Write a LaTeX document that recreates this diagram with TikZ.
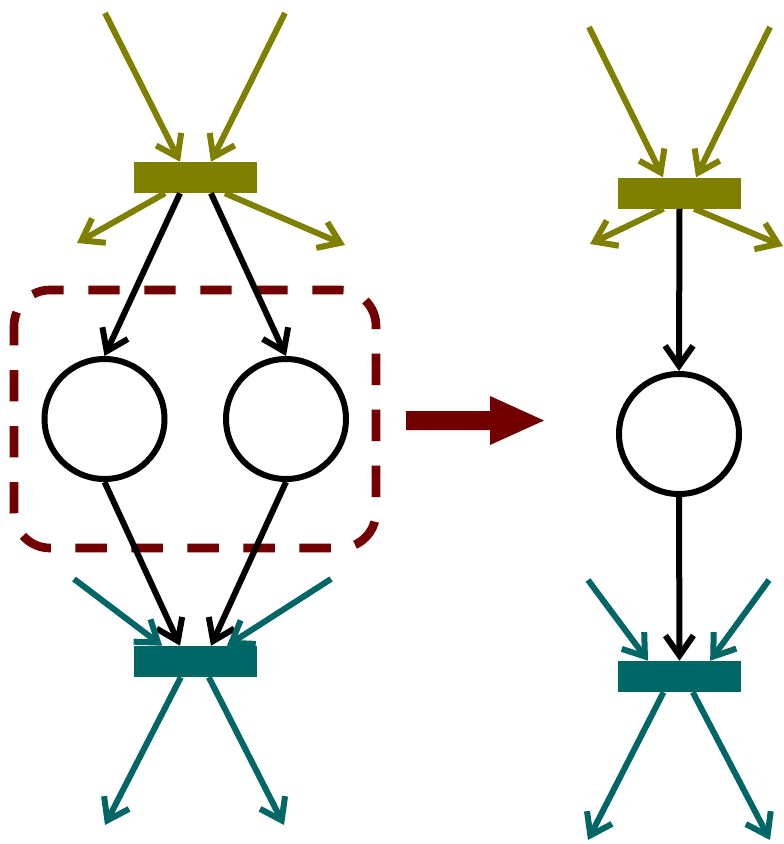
\documentclass[tikz,border=0pt]{standalone}
\usepackage{tikz}
\usetikzlibrary{arrows.meta}
\definecolor{netolive}{RGB}{128,128,0}
\definecolor{netteal}{RGB}{0,102,102}
\definecolor{netred}{RGB}{115,0,0}

\begin{document}
\begin{tikzpicture}[x=0.75pt,y=0.75pt,yscale=-1,
    trans/.style={rectangle,inner sep=0pt,minimum width=92.25pt,minimum height=23.25pt},
    place/.style={circle,draw=black,line width=4.5pt,inner sep=0pt,minimum size=90pt},
    arc/.style={line width=4.5pt,-{Straight Barb[length=15pt,width=21pt]}}]
        \useasboundingbox (0,0) rectangle (784,844);

        %Dashed group round the two places
        \draw [netred, line width=6.5pt, dash pattern={on 23.5pt off 18.5pt}, dash phase=9pt, rounded corners=27pt] (14,290) rectangle (376,548);

        %Left net
        \node [trans, fill=netolive] (t1) at (195.5,177.5) {};
        \node [trans, fill=netteal] (t2) at (195.5,661.5) {};
        \node [place] (p1) at (104.5,419) {};
        \node [place] (p2) at (286,419) {};

        \coordinate (a1) at (105,13);
        \coordinate (a2) at (285,13);
        \coordinate (b1) at (77,243);
        \coordinate (b2) at (345,245);
        \coordinate (c1) at (74,579);
        \coordinate (c2) at (331,579);
        \coordinate (d1) at (105,825);
        \coordinate (d2) at (284,825);

        \draw [arc, netolive] (a1) -- ([xshift=-11.6pt]t1.north);
        \draw [arc, netolive] (a2) -- ([xshift=11.6pt]t1.north);
        \draw [arc, netolive] ([xshift=-22.9pt]t1.south) -- (b1);
        \draw [arc, netolive] ([xshift=22.1pt]t1.south) -- (b2);
        \draw [arc] ([xshift=-11.6pt]t1.south) -- (p1.north);
        \draw [arc] ([xshift=11.6pt]t1.south) -- (p2.north);
        \draw [arc] (p1.south) -- ([xshift=-11.6pt]t2.north);
        \draw [arc] (p2.south) -- ([xshift=11.6pt]t2.north);
        \draw [arc, netteal] (c1) -- ([xshift=-25pt]t2.north);
        \draw [arc, netteal] (c2) -- ([xshift=23.6pt]t2.north);
        \draw [arc, netteal] ([xshift=-11pt]t2.south) -- (d1);
        \draw [arc, netteal] ([xshift=10pt]t2.south) -- (d2);

        %Reduction arrow
        \fill [netred] (406,411) -- (490,411) -- (490,396) -- (544,420.5) -- (490,445) -- (490,430) -- (406,430) -- cycle;

        %Right net
        \node [trans, fill=netolive] (t3) at (679.5,193) {};
        \node [trans, fill=netteal] (t4) at (679.5,676.5) {};
        \node [place] (p3) at (679,434) {};

        \coordinate (e1) at (589,27);
        \coordinate (e2) at (770,27);
        \coordinate (f1) at (590,244);
        \coordinate (f2) at (783,246);
        \coordinate (g1) at (588,580);
        \coordinate (g2) at (769,580);
        \coordinate (h1) at (588,840);
        \coordinate (h2) at (770,840);

        \draw [arc, netolive] (e1) -- ([xshift=-12.4pt]t3.north);
        \draw [arc, netolive] (e2) -- ([xshift=12.4pt]t3.north);
        \draw [arc, netolive] ([xshift=-12pt]t3.south) -- (f1);
        \draw [arc, netolive] ([xshift=11pt]t3.south) -- (f2);
        \draw [arc] (t3.south) -- (p3.north);
        \draw [arc] (p3.south) -- (t4.north);
        \draw [arc, netteal] (g1) -- ([xshift=-23.6pt]t4.north);
        \draw [arc, netteal] (g2) -- ([xshift=23pt]t4.north);
        \draw [arc, netteal] ([xshift=-12pt]t4.south) -- (h1);
        \draw [arc, netteal] ([xshift=10pt]t4.south) -- (h2);

\end{tikzpicture}
\end{document}
